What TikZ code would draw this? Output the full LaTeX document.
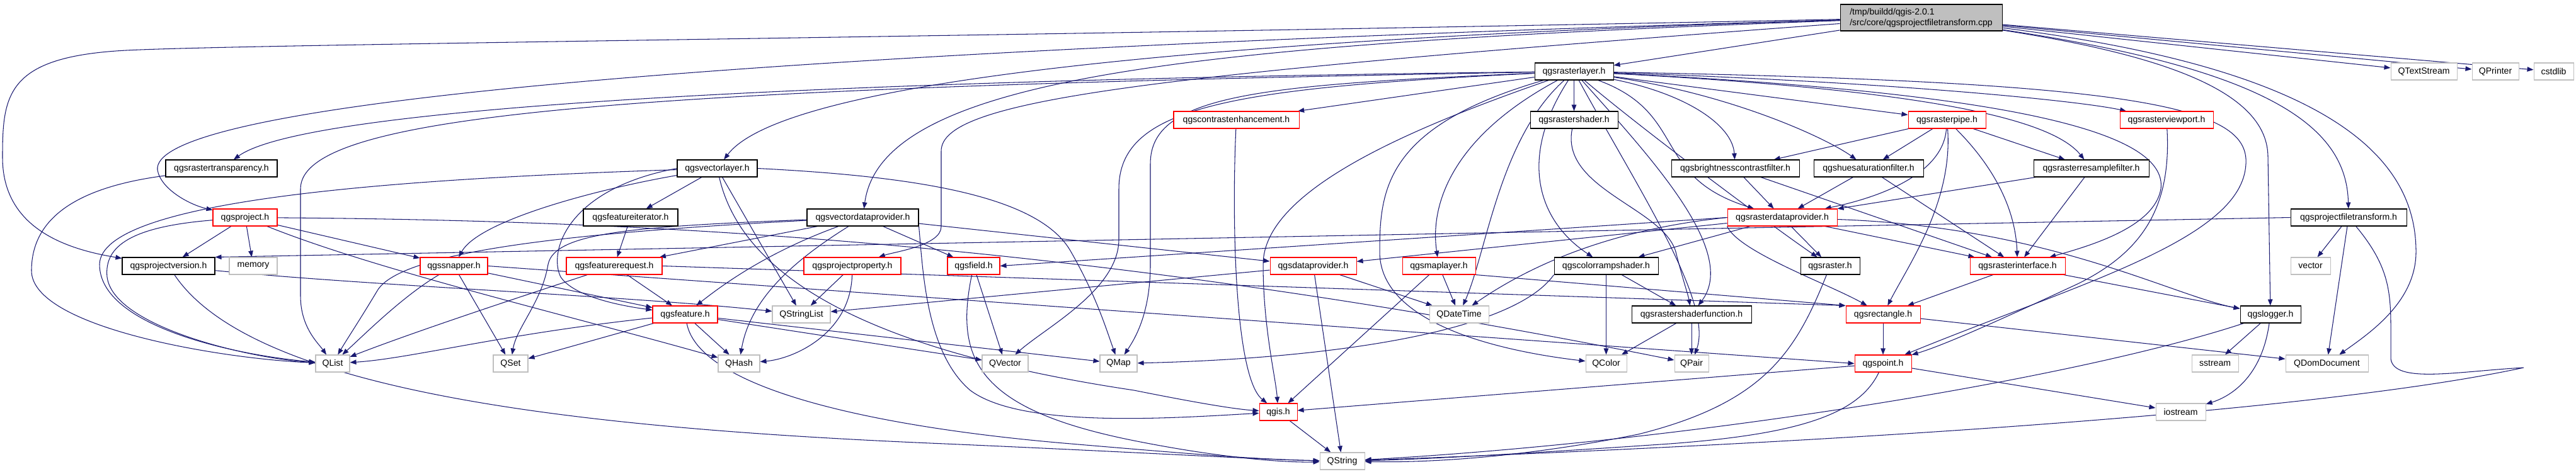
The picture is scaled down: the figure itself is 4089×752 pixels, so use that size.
\documentclass[tikz,border=0pt]{standalone}
\usepackage{fontspec}
\setmainfont{Liberation Sans}
\usetikzlibrary{arrows.meta,backgrounds}
\definecolor{edgec}{HTML}{191970}
\definecolor{grayb}{HTML}{BFBFBF}
\definecolor{rootf}{HTML}{BFBFBF}
\newcommand{\gn}[7]{\node[#1, minimum width={(#5-#3)*0.02cm}, minimum height={(#6-#4)*0.02cm}] (#2) at ({(#3+#5)/2},{(#4+#6)/2}) {#7};}
\tikzset{
 bx/.style={draw, fill=white, line width=0.6pt, inner sep=0pt, font=\fontsize{8}{9.6}\selectfont},
 bbox/.style={bx, draw=black},
 rbox/.style={bx, draw=red},
 gbox/.style={bx, draw=grayb},
 rootbox/.style={bx, draw=black, fill=rootf, align=left},
 ed/.style={draw=edgec, line width=0.6pt, -{Triangle[length=0.2cm,width=0.15cm]}},
}
\begin{document}
\begin{tikzpicture}[x=0.02cm,y=-0.02cm]
\useasboundingbox (0,0) rectangle (4089,752);
% nodes
\gn{rootbox}{root}{2921}{7}{3178}{49}{/tmp/buildd/qgis-2.0.1\\/src/core/qgsprojectfiletransform.cpp}
\gn{bbox}{rlayer}{2436}{100}{2561}{127}{qgsrasterlayer.h}
\gn{gbox}{qts}{3795}{100}{3900}{127}{QTextStream}
\gn{gbox}{qpr}{3924}{100}{3998}{127}{QPrinter}
\gn{gbox}{cstd}{4022}{100}{4085}{127}{cstdlib}
\gn{rbox}{contrast}{1863}{177}{2062}{204}{qgscontrastenhancement.h}
\gn{bbox}{rshader}{2429}{177}{2568}{204}{qgsrastershader.h}
\gn{rbox}{rpipe}{3029}{177}{3152}{204}{qgsrasterpipe.h}
\gn{rbox}{rview}{3365}{177}{3513}{204}{qgsrasterviewport.h}
\gn{bbox}{rtransp}{263}{254}{440}{281}{qgsrastertransparency.h}
\gn{bbox}{vlayer}{1075}{254}{1202}{281}{qgsvectorlayer.h}
\gn{bbox}{bcf}{2653}{254}{2856}{281}{qgsbrightnesscontrastfilter.h}
\gn{bbox}{hsf}{2879}{254}{3053}{281}{qgshuesaturationfilter.h}
\gn{bbox}{rsf}{3228}{254}{3411}{281}{qgsrasterresamplefilter.h}
\gn{rbox}{project}{338}{332}{440}{359}{qgsproject.h}
\gn{bbox}{fiter}{926}{332}{1076}{359}{qgsfeatureiterator.h}
\gn{bbox}{vdp}{1281}{332}{1458}{359}{qgsvectordataprovider.h}
\gn{rbox}{rdp}{2742}{332}{2916}{359}{qgsrasterdataprovider.h}
\gn{bbox}{pft}{3636}{332}{3820}{359}{qgsprojectfiletransform.h}
\gn{bbox}{pver}{194}{409}{341}{436}{qgsprojectversion.h}
\gn{gbox}{memory}{364}{409}{440}{436}{memory}
\gn{rbox}{snapper}{667}{409}{774}{436}{qgssnapper.h}
\gn{rbox}{freq}{899}{409}{1051}{436}{qgsfeaturerequest.h}
\gn{rbox}{pprop}{1276}{409}{1430}{436}{qgsprojectproperty.h}
\gn{rbox}{field}{1504}{409}{1587}{436}{qgsfield.h}
\gn{rbox}{dprov}{2016}{409}{2153}{436}{qgsdataprovider.h}
\gn{rbox}{maplayer}{2226}{409}{2342}{436}{qgsmaplayer.h}
\gn{bbox}{cramp}{2467}{409}{2632}{436}{qgscolorrampshader.h}
\gn{bbox}{raster}{2858}{409}{2952}{436}{qgsraster.h}
\gn{rbox}{rif}{3127}{409}{3278}{436}{qgsrasterinterface.h}
\gn{gbox}{vector}{3636}{409}{3699}{436}{vector}
\gn{rbox}{feature}{1036}{486}{1139}{513}{qgsfeature.h}
\gn{gbox}{qsl}{1226}{486}{1318}{513}{QStringList}
\gn{gbox}{qdt}{2269}{486}{2363}{513}{QDateTime}
\gn{bbox}{shfunc}{2590}{486}{2780}{513}{qgsrastershaderfunction.h}
\gn{rbox}{rect}{2930}{486}{3048}{513}{qgsrectangle.h}
\gn{bbox}{logger}{3556}{486}{3652}{513}{qgslogger.h}
\gn{gbox}{qlist}{501}{564}{555}{591}{QList}
\gn{gbox}{qset}{783}{564}{838}{591}{QSet}
\gn{gbox}{qhash}{1140}{564}{1206}{591}{QHash}
\gn{gbox}{qvec}{1559}{564}{1632}{591}{QVector}
\gn{gbox}{qmap}{1746}{564}{1805}{591}{QMap}
\gn{gbox}{qcolor}{2517}{564}{2582}{591}{QColor}
\gn{gbox}{qpair}{2658}{564}{2712}{591}{QPair}
\gn{rbox}{point}{2944}{564}{3034}{591}{qgspoint.h}
\gn{gbox}{sstream}{3479}{564}{3553}{591}{sstream}
\gn{gbox}{qdom}{3628}{564}{3759}{591}{QDomDocument}
\gn{rbox}{qgis}{1999}{641}{2059}{668}{qgis.h}
\gn{gbox}{iostream}{3422}{641}{3501}{668}{iostream}
\gn{gbox}{qstring}{2095}{719}{2166}{746}{QString}
\begin{pgfonlayer}{background}
% root
\draw[ed] (root) -- (rlayer);
\draw[ed] (root) -- (qts);
\draw[ed] (root) -- (qpr);
\draw[ed] (root) -- (cstd);
\draw[ed] (root) .. controls (3600,110) and (3725,200) .. (pft);
\draw[ed] (root) .. controls (3450,90) and (3600,150) .. (3600,250) -- (logger);
\draw[ed] (root) .. controls (3700,110) and (3835,250) .. (3835,400) .. controls (3835,480) and (3760,530) .. (qdom);
\draw[ed] (root) .. controls (2000,60) and (1250,120) .. (vlayer);
\draw[ed] (root) .. controls (1900,70) and (1400,120) .. (vdp);
\draw[ed] (root) .. controls (900,90) and (240,180) .. (250,270) .. controls (255,300) and (300,325) .. (project);
\draw[ed] (root) .. controls (1500,60) and (400,70) .. (200,80) .. controls (10,90) and (4,150) .. (4,250) .. controls (4,360) and (100,395) .. (pver);
\draw[ed] (root) .. controls (1800,120) and (1494,160) .. (1494,240) -- (1494,360) .. controls (1494,390) and (1420,400) .. (pprop);
% rasterlayer
\draw[ed] (rlayer) -- (contrast);
\draw[ed] (rlayer) -- (rshader);
\draw[ed] (rlayer) -- (rpipe);
\draw[ed] (rlayer) .. controls (2680,150) and (2750,200) .. (bcf);
\draw[ed] (rlayer) .. controls (2750,150) and (2900,220) .. (hsf);
\draw[ed] (rlayer) .. controls (3000,140) and (3250,180) .. (rsf);
\draw[ed] (rlayer) .. controls (3000,130) and (3300,160) .. (rview);
\draw[ed] (rlayer) .. controls (2680,180) and (2620,280) .. (rdp);
\draw[ed] (rlayer) .. controls (1500,125) and (500,160) .. (rtransp);
\draw[ed] (rlayer) .. controls (1000,140) and (477,180) .. (477,300) -- (477,470) .. controls (477,520) and (505,545) .. (qlist);
\draw[ed] (rlayer) .. controls (2000,135) and (1826,150) .. (1826,260) -- (1826,420) .. controls (1826,500) and (1800,540) .. (qmap);
\draw[ed] (rlayer) .. controls (1950,140) and (1776,170) .. (1776,300) -- (1776,380) .. controls (1776,460) and (1660,520) .. (qvec);
\draw[ed] (rlayer) .. controls (2250,200) and (2005,300) .. (2005,420) .. controls (2005,520) and (2025,600) .. (qgis);
\draw[ed] (rlayer) .. controls (2200,200) and (2190,300) .. (2190,400) .. controls (2190,520) and (2400,560) .. (qcolor);
\draw[ed] (rlayer) .. controls (2300,220) and (2270,330) .. (maplayer);
\draw[ed] (rlayer) .. controls (2380,220) and (2360,400) .. (qdt);
\draw[ed] (rlayer) .. controls (2410,250) and (2440,350) .. (cramp);
\draw[ed] (rlayer) .. controls (2600,200) and (2800,350) .. (raster);
\draw[ed] (rlayer) .. controls (3250,150) and (3440,220) .. (3430,300) .. controls (3420,360) and (3320,390) .. (rif);
\draw[ed] (rlayer) .. controls (3400,130) and (3570,170) .. (3565,260) .. controls (3560,380) and (3300,450) .. (point);
\draw[ed] (rlayer) .. controls (2620,250) and (2760,400) .. (shfunc);
\draw[ed] (rlayer) .. controls (2600,300) and (2720,480) .. (qpair);
% raster side
\draw[ed] (rshader) .. controls (2476,300) and (2640,330) .. (2660,400) .. controls (2670,440) and (2680,470) .. (shfunc);
\draw[ed] (contrast) .. controls (1955,350) and (1960,600) .. (qgis);
\draw[ed] (rpipe) -- (bcf);
\draw[ed] (rpipe) -- (hsf);
\draw[ed] (rpipe) -- (rsf);
\draw[ed] (rpipe) .. controls (3085,270) and (3000,310) .. (rdp);
\draw[ed] (rpipe) .. controls (3100,320) and (3030,420) .. (rect);
\draw[ed] (rpipe) .. controls (3180,280) and (3200,350) .. (rif);
\draw[ed] (bcf) -- (rdp);
\draw[ed] (bcf) -- (rif);
\draw[ed] (hsf) -- (rdp);
\draw[ed] (hsf) -- (rif);
\draw[ed] (rsf) -- (rdp);
\draw[ed] (rsf) -- (rif);
\draw[ed] (rview) .. controls (3447,330) and (3400,400) .. (3300,450) .. controls (3150,520) and (3080,550) .. (point);
% left side
\draw[ed] (rtransp) .. controls (100,300) and (50,360) .. (50,430) .. controls (50,520) and (350,570) .. (qlist);
\draw[ed] (project) -- (pver);
\draw[ed] (project) -- (memory);
\draw[ed] (project) .. controls (210,360) and (165,390) .. (170,440) .. controls (180,520) and (400,570) .. (qlist);
\draw[ed] (project) -- (snapper);
\draw[ed] (project) .. controls (600,430) and (900,500) .. (qhash);
\draw[ed] (project) .. controls (1000,350) and (1700,380) .. (qpair);
\draw[ed] (pver) .. controls (400,620) and (900,680) .. (1500,705) .. controls (1800,718) and (2000,730) .. (qstring);
\draw[ed] (pver) .. controls (600,455) and (1000,470) .. (qsl);
\draw[ed] (pft.west) -- (pver.north east);
\draw[ed] (pft) -- (vector);
\draw[ed] (pft) -- (qdom);
\draw[ed] (pft) .. controls (3790,420) and (3795,460) .. (3795,520) -- (3795,570) .. controls (3800,610) and (3900,590) .. (4006,584) .. controls (3700,650) and (3000,700) .. (qstring);
% vector layer
\draw[ed] (vlayer) .. controls (600,285) and (160,320) .. (158,420) .. controls (158,520) and (380,565) .. (qlist);
\draw[ed] (vlayer) .. controls (950,300) and (760,350) .. (snapper);
\draw[ed] (vlayer.west) .. controls (900,300) and (870,400) .. (890,440) .. controls (910,470) and (980,485) .. (feature);
\draw[ed] (vlayer) -- (fiter);
\draw[ed] (vlayer) -- (qsl);
\draw[ed] (vlayer.east) .. controls (1450,280) and (1650,310) .. (1700,400) .. controls (1740,470) and (1755,520) .. (qmap);
\draw[ed] (vlayer) .. controls (1180,450) and (1400,560) .. (1800,620) .. controls (1900,640) and (1960,650) .. (qgis);
% vector data provider
\draw[ed] (vdp) .. controls (900,370) and (640,400) .. (600,460) .. controls (570,510) and (550,540) .. (qlist);
\draw[ed] (vdp) .. controls (1000,360) and (880,370) .. (870,420) .. controls (860,480) and (820,520) .. (qset);
\draw[ed] (vdp) .. controls (1250,420) and (1190,480) .. (qhash);
\draw[ed] (vdp) -- (dprov);
\draw[ed] (vdp) .. controls (1220,400) and (1150,450) .. (feature);
\draw[ed] (vdp) -- (freq);
\draw[ed] (vdp) -- (field);
\draw[ed] (vdp.south east) .. controls (1465,430) and (1470,560) .. (1540,620) .. controls (1620,680) and (1850,665) .. (qgis);
\draw[ed] (fiter) -- (freq);
\draw[ed] (freq) -- (feature);
\draw[ed] (freq) .. controls (800,480) and (650,530) .. (qlist);
\draw[ed] (freq.east) -- (rect.north west);
\draw[ed] (snapper) .. controls (640,470) and (580,530) .. (qlist);
\draw[ed] (snapper) -- (qset);
\draw[ed] (snapper) -- (feature);
\draw[ed] (snapper.east) -- (point.west);
\draw[ed] (pprop) -- (qsl);
\draw[ed] (pprop) .. controls (1350,530) and (1260,570) .. (qhash);
% feature, field
\draw[ed] (feature) -- (qset);
\draw[ed] (feature) -- (qhash);
\draw[ed] (feature) .. controls (1110,620) and (1400,680) .. (1700,705) .. controls (1900,722) and (2000,730) .. (qstring);
\draw[ed] (feature) .. controls (800,530) and (650,570) .. (qlist);
\draw[ed] (feature) -- (qmap);
\draw[ed] (feature) -- (qvec);
\draw[ed] (field) -- (qvec);
\draw[ed] (field) .. controls (1515,570) and (1550,650) .. (1800,700) .. controls (1950,730) and (2050,735) .. (qstring);
% data provider, map layer
\draw[ed] (dprov) -- (qdt);
\draw[ed] (dprov) -- (qstring);
\draw[ed] (dprov) -- (qsl);
\draw[ed] (maplayer) -- (qdt);
\draw[ed] (maplayer) -- (qgis);
\draw[ed] (maplayer.south east) -- (rect.north west);
\draw[ed] (cramp) -- (shfunc);
\draw[ed] (cramp) -- (qcolor);
\draw[ed] (cramp.south west) .. controls (2400,530) and (2100,570) .. (qmap);
\draw[ed] (shfunc) -- (qcolor);
\draw[ed] (shfunc) -- (qpair);
\draw[ed] (raster) .. controls (2850,560) and (2800,640) .. (2600,690) .. controls (2400,730) and (2250,735) .. (qstring);
\draw[ed] (rif) -- (rect);
\draw[ed] (rif) -- (logger);
% raster data provider
\draw[ed] (rdp) -- (dprov);
\draw[ed] (rdp) -- (raster);
\draw[ed] (rdp) -- (rif);
\draw[ed] (rdp.south west) .. controls (2760,400) and (2900,450) .. (rect);
\draw[ed] (rdp.west) -- (field.east);
\draw[ed] (rdp.west) .. controls (2600,360) and (2460,400) .. (qdt);
\draw[ed] (rdp) -- (cramp);
\draw[ed] (rdp) .. controls (3250,360) and (3450,470) .. (logger);
% bottom
\draw[ed] (rect) -- (point);
\draw[ed] (rect) -- (qdom);
\draw[ed] (point) -- (qgis);
\draw[ed] (point) .. controls (2950,660) and (2850,690) .. (2650,705) .. controls (2400,722) and (2250,730) .. (qstring);
\draw[ed] (point) -- (iostream);
\draw[ed] (logger) .. controls (3300,600) and (2700,700) .. (qstring);
\draw[ed] (logger) -- (sstream);
\draw[ed] (logger) .. controls (3590,600) and (3540,630) .. (iostream);
\draw[ed] (qgis) -- (qstring);
\end{pgfonlayer}
\end{tikzpicture}
\end{document}
